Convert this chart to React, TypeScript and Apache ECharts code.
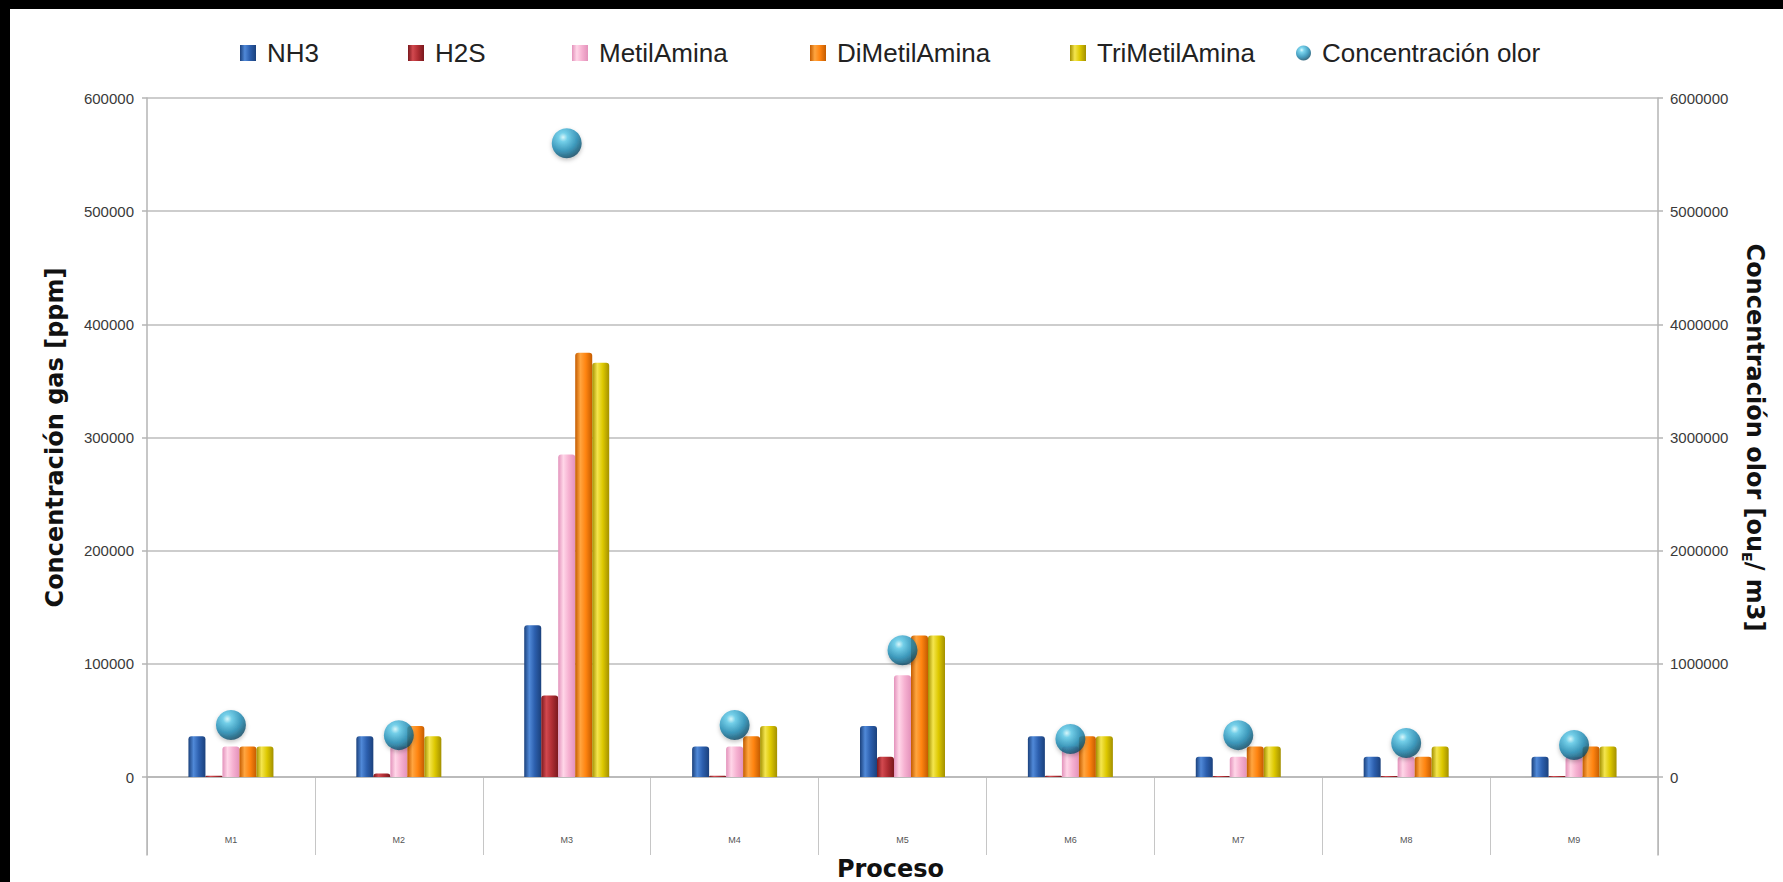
import React, { useEffect, useRef } from 'react';
import * as echarts from 'echarts';

// Sampling points (processes)
const categories = ['M1', 'M2', 'M3', 'M4', 'M5', 'M6', 'M7', 'M8', 'M9'];

// Gas concentrations [ppm]
const nh3 = [36000, 36000, 134000, 27000, 45000, 36000, 18000, 18000, 18000];
const h2s = [1000, 3000, 72000, 1000, 18000, 1000, 800, 800, 800];
const metilAmina = [27000, 27000, 285000, 27000, 90000, 27000, 18000, 18000, 18000];
const diMetilAmina = [27000, 45000, 375000, 36000, 125000, 36000, 27000, 18000, 27000];
const triMetilAmina = [27000, 36000, 366000, 45000, 125000, 36000, 27000, 27000, 27000];

// Odour concentration [ouE/m3]
const olor = [460000, 370000, 5600000, 460000, 1120000, 335000, 370000, 300000, 283000];

// Axis ranges
const gasMax = 600000;
const gasStep = 100000;
const olorMax = 6000000;
const olorStep = 1000000;

const legendNames = ['NH3', 'H2S', 'MetilAmina', 'DiMetilAmina', 'TriMetilAmina', 'Concentración olor'];

// Horizontal placement of each legend entry
const legendLeft = [225, 393, 557, 795, 1055, 1281];

const cylinder = (edge: string, light: string, mid: string) =>
  new echarts.graphic.LinearGradient(0, 0, 1, 0, [
    { offset: 0, color: edge },
    { offset: 0.3, color: light },
    { offset: 0.62, color: mid },
    { offset: 1, color: edge },
  ]);

const sphere = () =>
  new echarts.graphic.RadialGradient(0.38, 0.3, 0.75, [
    { offset: 0, color: '#d6fbff' },
    { offset: 0.2, color: '#5ccbea' },
    { offset: 0.62, color: '#1a88b2' },
    { offset: 1, color: '#093f58' },
  ]);

export default function App() {
  const ref = useRef<HTMLDivElement>(null);

  useEffect(() => {
    if (!ref.current) return;
    const chart = echarts.init(ref.current, null, { renderer: 'svg' });

    const tickFont = { fontFamily: 'Liberation Sans', fontSize: 15, color: '#3a3a3a' };
    const titleFont = { fontFamily: 'DejaVu Sans', fontSize: 24, fontWeight: 'bold' as const, color: '#111' };
    const axisGray = { color: '#b4b4b4', width: 1.5 };
    const plain = (v: number) => String(v);

    const barSeries = (name: string, data: number[], color: any) => ({
      name,
      type: 'bar',
      xAxisIndex: 0,
      yAxisIndex: 0,
      data,
      barWidth: 17,
      barGap: '0%',
      z: 2,
      itemStyle: { color, borderRadius: [3, 3, 0, 0] },
    });

    const option = {
      animation: false,
      backgroundColor: '#ffffff',
      legend: legendNames.map((name, i) => ({
        data: [name],
        left: legendLeft[i],
        top: 26,
        itemWidth: i === 5 ? 15 : 16,
        itemHeight: i === 5 ? 15 : 16,
        icon: i === 5 ? 'circle' : 'rect',
        textStyle: {
          fontFamily: 'Liberation Sans',
          fontSize: 26,
          color: '#222',
          padding: [0, 0, 0, 6],
        },
      })),
      grid: [
        { left: 137, right: 125, top: 89, height: 679 },
        { left: 137, right: 125, top: 768, height: 80 },
      ],
      xAxis: [
        {
          type: 'category',
          gridIndex: 0,
          data: categories,
          axisLine: { show: true, lineStyle: axisGray },
          axisTick: { show: false },
          axisLabel: { show: false },
          splitLine: { show: false },
        },
        {
          type: 'category',
          gridIndex: 1,
          data: categories,
          position: 'bottom',
          axisLine: { show: false },
          axisTick: { show: false },
          axisLabel: {
            inside: true,
            margin: 11,
            interval: 0,
            fontFamily: 'Liberation Sans',
            fontSize: 9,
            color: '#555',
          },
          splitLine: { show: true, interval: 0, lineStyle: { color: '#c6c6c6', width: 1 } },
          name: 'Proceso',
          nameLocation: 'middle',
          nameGap: 2,
          nameTextStyle: { ...titleFont, verticalAlign: 'top', padding: [0, 24, 0, 0] },
        },
      ],
      yAxis: [
        {
          type: 'value',
          gridIndex: 0,
          position: 'left',
          min: 0,
          max: gasMax,
          interval: gasStep,
          axisLine: { show: true, lineStyle: axisGray },
          axisTick: { show: true, length: 5, lineStyle: axisGray },
          axisLabel: { ...tickFont, margin: 13, formatter: plain },
          splitLine: { show: true, lineStyle: { color: '#bdbdbd', width: 1.5 } },
          name: 'Concentración gas [ppm]',
          nameLocation: 'middle',
          nameGap: 80,
          nameTextStyle: titleFont,
        },
        {
          type: 'value',
          gridIndex: 0,
          position: 'right',
          min: 0,
          max: olorMax,
          interval: olorStep,
          axisLine: { show: true, lineStyle: axisGray },
          axisTick: { show: true, length: 5, lineStyle: axisGray },
          axisLabel: { ...tickFont, margin: 12, formatter: plain },
          splitLine: { show: false },
          name: 'Concentración olor [ou{sub|E}/ m3]',
          nameLocation: 'middle',
          nameRotate: -90,
          nameGap: 82,
          nameTextStyle: {
            ...titleFont,
            rich: {
              sub: {
                fontFamily: 'DejaVu Sans',
                fontSize: 14,
                fontWeight: 'bold',
                color: '#111',
                verticalAlign: 'bottom',
                lineHeight: 30,
              },
            },
          },
        },
        {
          type: 'value',
          gridIndex: 1,
          position: 'left',
          min: 0,
          max: 1,
          axisLine: { show: true, lineStyle: axisGray },
          axisTick: { show: false },
          axisLabel: { show: false },
          splitLine: { show: false },
        },
        {
          type: 'value',
          gridIndex: 1,
          position: 'right',
          min: 0,
          max: 1,
          axisLine: { show: true, lineStyle: axisGray },
          axisTick: { show: false },
          axisLabel: { show: false },
          splitLine: { show: false },
        },
      ],
      series: [
        barSeries('NH3', nh3, cylinder('#1b417c', '#5089d8', '#2c5fae')),
        barSeries('H2S', h2s, cylinder('#7a181d', '#d2494f', '#b02d33')),
        barSeries('MetilAmina', metilAmina, cylinder('#e392bb', '#ffd6e8', '#f6b1d1')),
        barSeries('DiMetilAmina', diMetilAmina, cylinder('#c45c00', '#ffa540', '#ff8410')),
        barSeries('TriMetilAmina', triMetilAmina, cylinder('#a39000', '#f4e54e', '#ddc800')),
        {
          name: 'Concentración olor',
          type: 'scatter',
          xAxisIndex: 0,
          yAxisIndex: 1,
          data: olor,
          symbol: 'circle',
          symbolSize: 30,
          z: 6,
          itemStyle: {
            color: sphere(),
            shadowBlur: 4,
            shadowColor: 'rgba(0,0,0,0.3)',
            shadowOffsetY: 2,
          },
        },
      ],
    };

    chart.setOption(option as any);
    return () => chart.dispose();
  }, []);

  return (
    <div
      style={{
        position: 'fixed',
        left: 0,
        top: 0,
        width: 1783,
        height: 882,
        background: '#000',
        overflow: 'hidden',
      }}
    >
      <div
        ref={ref}
        style={{ position: 'absolute', left: 10, top: 9, width: 1773, height: 873, background: '#fff' }}
      />
    </div>
  );
}
